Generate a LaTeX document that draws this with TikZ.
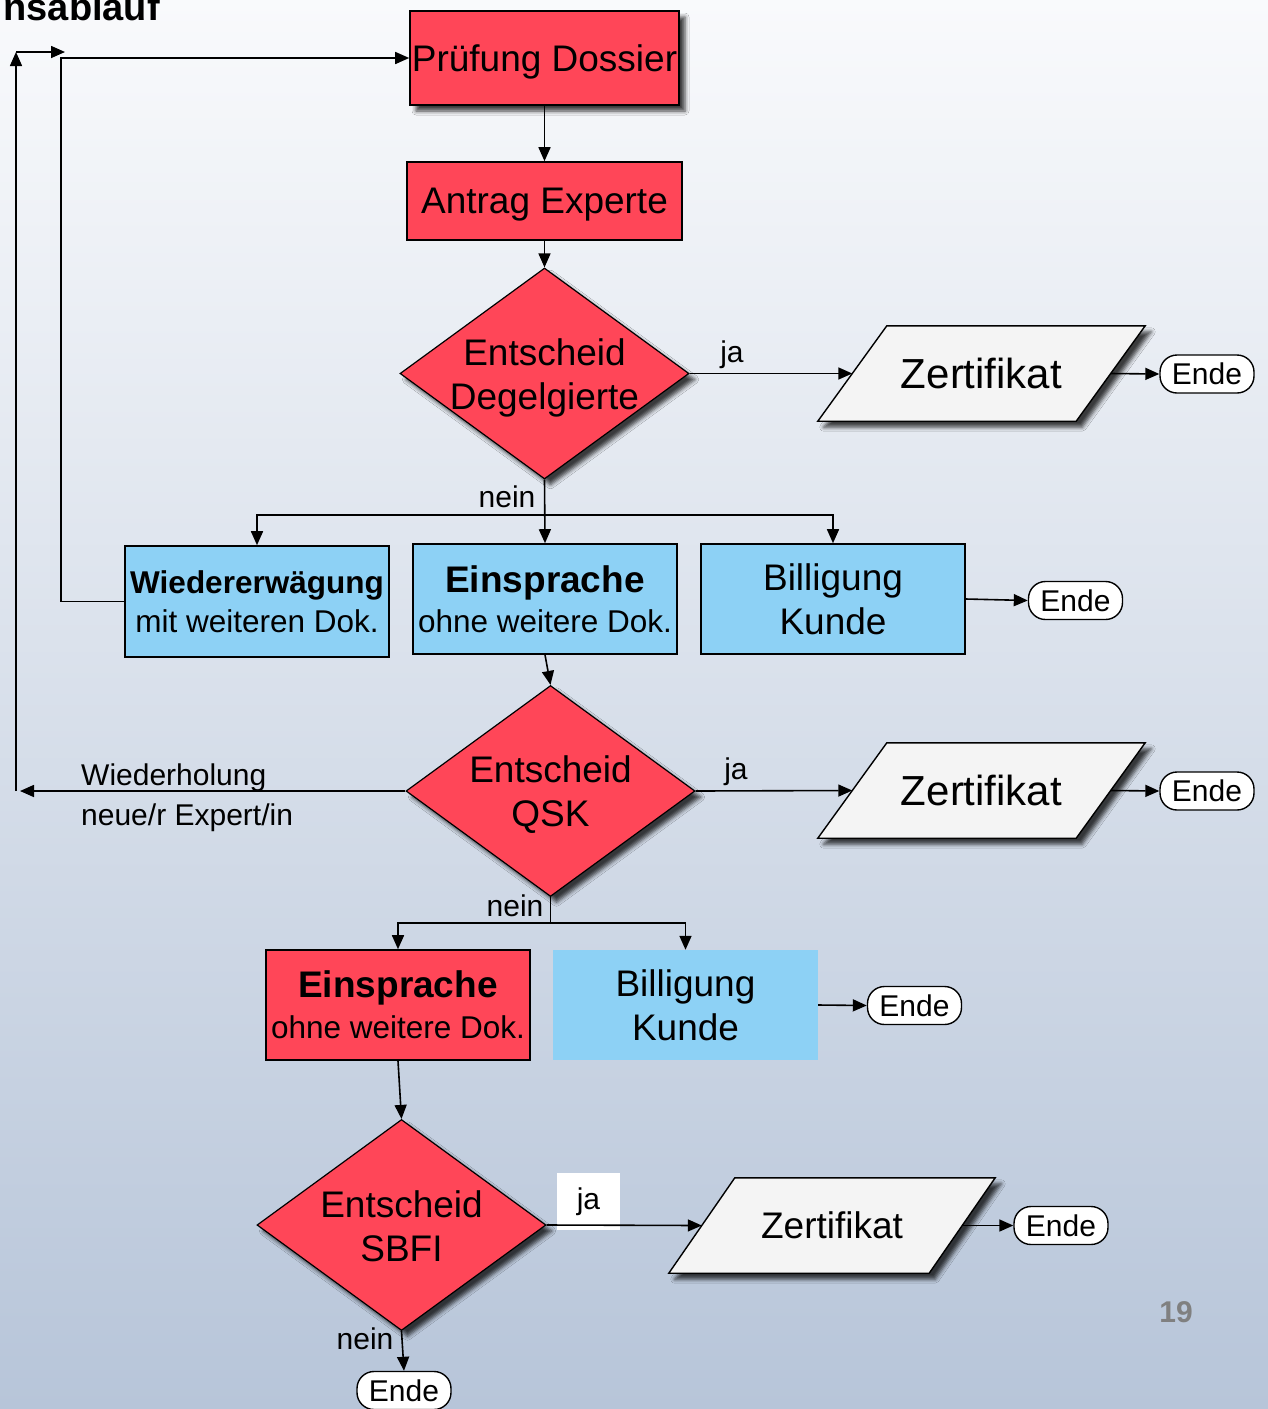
\documentclass[tikz,border=0pt]{standalone}
\usepackage{fontspec}
\setmainfont{Liberation Sans}
\usetikzlibrary{shapes.geometric,arrows.meta,shadows.blur,calc}
\definecolor{rd}{RGB}{255,70,88}
\definecolor{bl}{RGB}{141,209,245}
\definecolor{zf}{RGB}{244,244,244}
\definecolor{bgtop}{RGB}{249,250,252}
\definecolor{bgmid}{RGB}{226,231,239}
\definecolor{bgbot}{RGB}{183,197,217}
\definecolor{pgnum}{RGB}{128,128,128}
\begin{document}
\begin{tikzpicture}[x=1pt,y=-1pt,
 box/.style={rectangle,draw=black,line width=1.6pt,inner sep=0pt,align=center},
 redbox/.style={box,fill=rd},
 bluebox/.style={box,fill=bl},
 dia/.style={diamond,draw=black,line width=1.2pt,fill=rd,minimum width=289pt,minimum height=211pt,inner sep=0pt},
 zbody/.style={rectangle,inner sep=0pt,minimum height=95pt},
 zshape/.style={draw=black,line width=1.4pt,fill=zf,line join=miter},
 ende/.style={rectangle,rounded corners=17pt,draw=black,line width=1.4pt,fill=white,minimum width=94pt,minimum height=38pt,inner sep=0pt,font=\fontsize{30}{36}\selectfont},
 shd/.style={blur shadow={shadow xshift=6pt,shadow yshift=-6pt,shadow blur radius=4pt,shadow opacity=75}},
 arr/.style={draw=black,line width=1.6pt,-{Triangle[length=14pt,width=12pt]}},
 ln/.style={draw=black,line width=1.6pt},
 big/.style={font=\fontsize{37}{44}\selectfont},
 zfont/.style={font=\fontsize{42}{48}\selectfont},
 lab/.style={font=\fontsize{30}{36}\selectfont,inner sep=0pt},
]
\useasboundingbox (0,0) rectangle (1268,1409);
\shade[top color=bgtop, middle color=bgmid, bottom color=bgbot] (0,0) rectangle (1268,1409);

% title fragment
\node[anchor=base east,inner sep=0pt,font=\fontsize{38}{44}\selectfont\bfseries] (title) at (160,20) {nsablauf};

% top chain
\node[redbox,shd,big,text depth=0pt,minimum width=269pt,minimum height=94pt] (pd) at (544.5,58) {Prüfung Dossier};
\node[redbox,big,text depth=0pt,minimum width=275pt,minimum height=78pt] (ae) at (544.5,201) {Antrag Experte};

\node[dia,shd] (d1) at (544.5,373.5) {};
\node[big,align=center,inner sep=0pt] (t1) at (544.5,377.5) {Entscheid\\Degelgierte};
\node[zbody,minimum width=258pt] (z1) at (981.5,373.5) {};
\path[zshape,shd] ($(z1.south west)+(-34.5,0)$) -- ($(z1.north west)+(34.5,0)$) -- ($(z1.north east)+(34.5,0)$) -- ($(z1.south east)+(-34.5,0)$) -- cycle;
\node[zfont,inner sep=0pt] (zt1) at (z1) {Zertifikat};
\node[ende] (e1) at (1207,374) {Ende};

% blue row
\node[bluebox,minimum width=264pt,minimum height=111pt,font=\fontsize{31.5}{39}\selectfont] (wd) at (257,601.5)
  {\textbf{Wiedererwägung}\\mit weiteren Dok.};
\node[bluebox,minimum width=264pt,minimum height=110pt,font=\fontsize{31.5}{40}\selectfont] (ein1) at (545,599)
  {{\fontsize{37}{44}\selectfont\bfseries Einsprache}\\ohne weitere Dok.};
\node[bluebox,big,minimum width=264pt,minimum height=110pt] (bk1) at (833,599) {Billigung\\Kunde};
\node[ende] (e2) at (1075.5,600.5) {Ende};

% second decision
\node[dia,shd] (d2) at (550.5,791) {};
\node[big,align=center,inner sep=0pt] (t2) at (550.5,795) {Entscheid\\QSK};
\node[zbody,minimum width=258pt] (z2) at (981.5,790.5) {};
\path[zshape,shd] ($(z2.south west)+(-34.5,0)$) -- ($(z2.north west)+(34.5,0)$) -- ($(z2.north east)+(34.5,0)$) -- ($(z2.south east)+(-34.5,0)$) -- cycle;
\node[zfont,inner sep=0pt] (zt2) at (z2) {Zertifikat};
\node[ende] (e3) at (1207,791) {Ende};

% third row
\node[redbox,minimum width=264pt,minimum height=110pt,font=\fontsize{31.5}{41}\selectfont] (ein2) at (398,1005)
  {{\fontsize{37}{44}\selectfont\bfseries Einsprache}\\ohne weitere Dok.};
\node[rectangle,fill=bl,inner sep=0pt,align=center,big,minimum width=265pt,minimum height=110pt] (bk2) at (685.5,1005) {Billigung\\Kunde};
\node[ende] (e4) at (914.5,1005.5) {Ende};

% third decision
\node[dia,shd] (d3) at (401.5,1225) {};
\node[big,align=center,inner sep=0pt] (t3) at (401.5,1226) {Entscheid\\SBFI};
\node[zbody,minimum width=260pt] (z3) at (832,1225.5) {};
\path[zshape,shd] ($(z3.south west)+(-33,0)$) -- ($(z3.north west)+(33,0)$) -- ($(z3.north east)+(33,0)$) -- ($(z3.south east)+(-33,0)$) -- cycle;
\node[big,inner sep=0pt] (zt3) at (z3) {Zertifikat};
\node[ende] (e5) at (1061,1225.5) {Ende};
\node[ende] (e6) at (404,1390.5) {Ende};

% labels
\node[lab,anchor=base] (ja1) at (732,362) {ja};
\node[lab,anchor=base] (nein1) at (507,507) {nein};
\node[lab,anchor=base] (ja2) at (736,779) {ja};
\node[lab,anchor=base] (nein2) at (515,916) {nein};
\node[rectangle,fill=white,inner sep=0pt,minimum width=63pt,minimum height=57pt,font=\fontsize{30}{36}\selectfont] (ja3) at (588.5,1201.5) {ja};
\node[lab,anchor=base] (nein3) at (365,1349) {nein};
\node[lab,anchor=base west] (wh1) at (81,785) {Wiederholung};
\node[lab,anchor=base west] (wh2) at (81,825) {neue/r Expert/in};

% page number
\node[anchor=base,inner sep=0pt,text=pgnum,font=\fontsize{30}{36}\selectfont\bfseries] (pg) at (1176,1322) {19};

% coordinates
\coordinate (j1) at (544.5,515);
\coordinate (j2) at (550.5,923);
\coordinate (c1) at (61,58);
\coordinate (c2) at (20,791);
\coordinate (c3) at (16,791);
\coordinate (c4) at (16,52);
\coordinate (c5) at (65,52);

% connectors
\draw[arr] (pd.south) -- (ae.north);
\draw[arr] (ae.south) -- (d1.north);
\draw[arr] (d1.east) -- (z1.west);
\draw[arr] (z1.east) -- (e1.west);
\draw[arr] (d1.south) -- (ein1.north);
\draw[arr] (j1) -| (wd.north);
\draw[arr] (j1) -| (bk1.north);
\draw[arr] (bk1.east) -- (e2.west);
\draw[arr] (wd.west) -| (c1) -- (pd.west);
\draw[arr] (ein1.south) -- (d2.north);
\draw[arr] (d2.east) -- (z2.west);
\draw[arr] (z2.east) -- (e3.west);
\draw[arr] (d2.west) -- (c2);
\draw[arr] (c3) -- (c4);
\draw[arr] (c4) -- (c5);
\draw[ln] (d2.south) -- (j2);
\draw[arr] (j2) -| (ein2.north);
\draw[arr] (j2) -| (bk2.north);
\draw[arr] (bk2.east) -- (e4.west);
\draw[arr] (ein2.south) -- (d3.north);
\draw[arr] (d3.east) -- (z3.west);
\draw[arr] (z3.east) -- (e5.west);
\draw[arr] (d3.south) -- (e6.north);
\end{tikzpicture}
\end{document}
